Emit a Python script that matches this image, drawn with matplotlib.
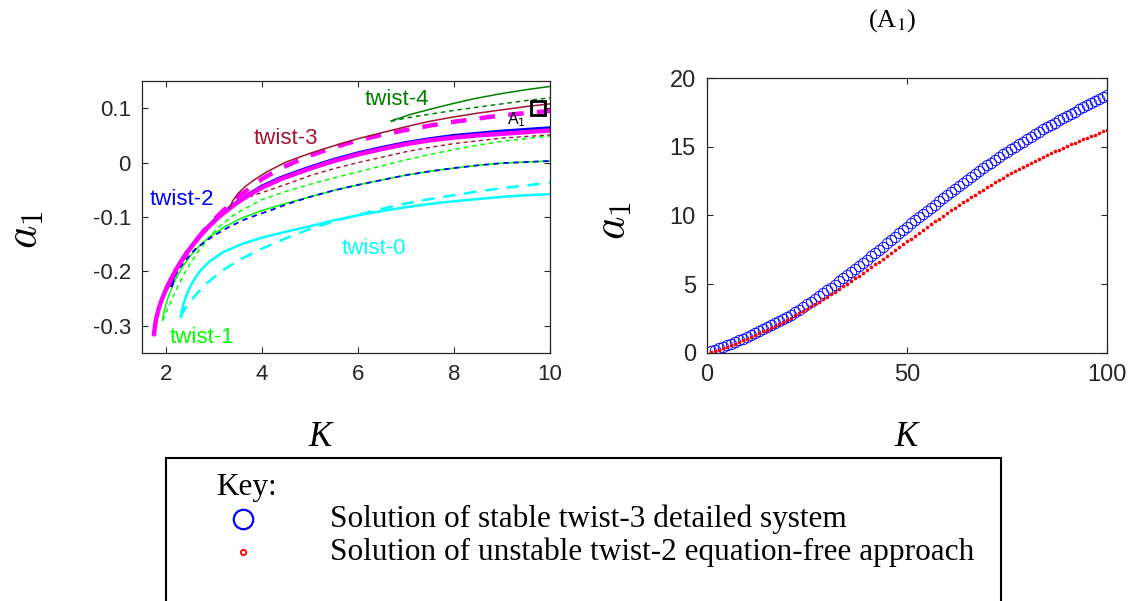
import numpy as np
import matplotlib
matplotlib.use("Agg")
import matplotlib.pyplot as plt
from matplotlib.patches import Rectangle

plt.rcParams['font.family'] = ['Liberation Sans', 'DejaVu Sans']
plt.rcParams['mathtext.fontset'] = 'cm'

# ---- left panel: branches a1(K) for each twist state ----
# twist-0 (cyan)
K_t0 = [2.31, 2.33, 2.37, 2.45, 2.55, 2.7, 2.9, 3.2, 3.6, 4.0, 4.5, 5.0, 5.5, 6.0, 6.5, 7.0, 7.5, 8.0,
        8.5, 9.0, 9.5, 10.0]
a_t0 = [-0.284, -0.272, -0.258, -0.238, -0.220, -0.200, -0.182, -0.164, -0.149, -0.138, -0.127, -0.117,
        -0.106, -0.097, -0.089, -0.082, -0.076, -0.071, -0.067, -0.063, -0.060, -0.058]
K_t0d = [2.31, 2.34, 2.4, 2.5, 2.65, 2.85, 3.1, 3.5, 4.0, 4.5, 5.0, 5.5, 6.0, 6.5, 7.0, 7.5, 8.0, 8.5,
         9.0, 9.5, 10.0]
a_t0d = [-0.284, -0.277, -0.268, -0.256, -0.240, -0.222, -0.203, -0.180, -0.158, -0.139, -0.122, -0.108,
         -0.096, -0.085, -0.075, -0.067, -0.060, -0.053, -0.047, -0.042, -0.037]

# twist-1 (green)
K_t1 = [1.93, 1.95, 1.99, 2.05, 2.13, 2.22, 2.35, 2.5, 2.7, 2.9, 3.2, 3.55, 4.0, 4.5, 5.0, 5.5, 6.0,
        6.5, 7.0, 7.5, 8.0, 8.5, 9.0, 9.5, 10.0]
a_t1 = [-0.290, -0.278, -0.263, -0.246, -0.228, -0.211, -0.191, -0.172, -0.153, -0.137, -0.119, -0.103,
        -0.088, -0.075, -0.063, -0.051, -0.041, -0.032, -0.023, -0.016, -0.010, -0.005, -0.001, 0.001, 0.003]
K_t1d = [1.93, 1.97, 2.02, 2.1, 2.2, 2.35, 2.5, 2.7, 2.9, 3.1, 3.4, 3.7, 4.0, 4.5, 5.0, 5.5, 6.0, 6.5,
         7.0, 7.5, 8.0, 8.5, 9.0, 9.5, 10.0]
a_t1d = [-0.290, -0.283, -0.272, -0.256, -0.236, -0.209, -0.186, -0.160, -0.137, -0.118, -0.097, -0.082,
         -0.068, -0.053, -0.040, -0.028, -0.017, -0.006, 0.005, 0.015, 0.024, 0.032, 0.039, 0.044, 0.049]

# twist-2 (blue)
K_t2 = [2.12, 2.15, 2.2, 2.3, 2.45, 2.6, 2.8, 3.0, 3.4, 3.7, 4.0, 4.4, 5.0, 5.5, 6.0, 6.5, 7.0, 7.5,
        8.0, 8.5, 9.0, 9.5, 10.0]
a_t2 = [-0.226, -0.213, -0.200, -0.183, -0.163, -0.145, -0.124, -0.106, -0.077, -0.059, -0.043, -0.027,
        -0.008, 0.006, 0.018, 0.028, 0.037, 0.044, 0.050, 0.054, 0.058, 0.061, 0.064]
K_t2d = [2.12, 2.17, 2.25, 2.4, 2.6, 2.8, 3.0, 3.3, 3.6, 3.9, 4.2, 4.5, 5.0, 5.5, 6.0, 6.5, 7.0, 7.5,
         8.0, 8.5, 9.0, 9.5, 10.0]
a_t2d = [-0.226, -0.212, -0.198, -0.180, -0.160, -0.146, -0.134, -0.119, -0.106, -0.096, -0.087, -0.077,
         -0.063, -0.051, -0.041, -0.032, -0.023, -0.016, -0.010, -0.005, -0.001, 0.001, 0.003]

# twist-3 (dark red)
K_t3 = [3.32, 3.4, 3.5, 3.65, 3.85, 4.1, 4.5, 5.0, 5.5, 6.0, 6.5, 7.0, 7.5, 8.0, 8.5, 9.0, 9.5, 10.0]
a_t3 = [-0.083, -0.069, -0.057, -0.044, -0.031, -0.017, 0.001, 0.017, 0.031, 0.044, 0.055, 0.066,
        0.076, 0.084, 0.091, 0.097, 0.103, 0.108]
K_t3d = [3.32, 3.4, 3.5, 3.65, 3.8, 4.0, 4.5, 5.0, 5.5, 6.0, 6.5, 7.0, 7.5, 8.0, 8.5, 9.0, 9.5, 10.0]
a_t3d = [-0.083, -0.077, -0.072, -0.066, -0.061, -0.055, -0.040, -0.024, -0.011, 0.000, 0.010, 0.020,
         0.028, 0.035, 0.040, 0.045, 0.048, 0.051]

# twist-4 (dark green)
K_t4 = [6.69, 6.75, 6.85, 7.07, 7.5, 8.0, 8.45, 9.0, 9.5, 10.0]
a_t4 = [0.076, 0.079, 0.081, 0.088, 0.098, 0.109, 0.118, 0.127, 0.134, 0.140]
K_t4d = [6.69, 7.0, 7.5, 8.0, 8.5, 9.0, 9.5, 10.0]
a_t4d = [0.076, 0.082, 0.089, 0.096, 0.102, 0.108, 0.114, 0.119]

# equation-free branch (magenta)
K_ef = [1.75, 1.77, 1.8, 1.85, 1.92, 2.0, 2.1, 2.2, 2.35, 2.5, 2.7, 2.9, 3.1, 3.4, 3.7, 4.0, 4.4, 5.0,
        5.5, 6.0, 6.5, 7.0, 7.5, 8.0, 8.5, 9.0, 9.5, 10.0]
a_ef = [-0.316, -0.300, -0.285, -0.268, -0.250, -0.233, -0.215, -0.198, -0.177, -0.158, -0.136, -0.117,
        -0.100, -0.079, -0.061, -0.046, -0.030, -0.011, 0.003, 0.015, 0.025, 0.034, 0.041, 0.046, 0.050,
        0.053, 0.056, 0.059]
K_efd = [2.0, 2.2, 2.5, 2.8, 3.1, 3.5, 4.0, 4.45, 5.0, 5.5, 6.0, 6.5, 7.0, 7.5, 8.0, 8.5, 9.0, 9.5, 10.0]
a_efd = [-0.233, -0.198, -0.156, -0.124, -0.096, -0.063, -0.030, -0.008, 0.013, 0.028, 0.041, 0.051,
         0.060, 0.068, 0.075, 0.081, 0.087, 0.091, 0.095]

K_A1, a_A1 = 9.76, 0.101

# ---- right panel: a1 against K at point A1 ----
K_r = np.arange(1, 101)
a_detailed = [0.10, 0.21, 0.32, 0.43, 0.55, 0.67, 0.79, 0.91, 1.03, 1.16,
              1.29, 1.42, 1.56, 1.70, 1.84, 1.99, 2.14, 2.29, 2.45, 2.61,
              2.78, 2.96, 3.14, 3.33, 3.52, 3.72, 3.92, 4.12, 4.33, 4.54,
              4.75, 4.97, 5.19, 5.41, 5.63, 5.86, 6.09, 6.32, 6.55, 6.78,
              7.02, 7.26, 7.50, 7.74, 7.98, 8.22, 8.46, 8.70, 8.94, 9.18,
              9.42, 9.65, 9.88, 10.11, 10.34, 10.57, 10.80, 11.03, 11.26, 11.49,
              11.71, 11.93, 12.15, 12.37, 12.59, 12.81, 13.02, 13.23, 13.44, 13.65,
              13.85, 14.05, 14.25, 14.45, 14.64, 14.83, 15.02, 15.21, 15.39, 15.57,
              15.75, 15.93, 16.10, 16.27, 16.44, 16.61, 16.77, 16.93, 17.09, 17.25,
              17.41, 17.57, 17.73, 17.88, 18.03, 18.18, 18.33, 18.48, 18.63, 18.78]
a_eqfree = [0.03, 0.13, 0.23, 0.34, 0.45, 0.56, 0.67, 0.79, 0.91, 1.03,
            1.16, 1.29, 1.42, 1.55, 1.68, 1.82, 1.96, 2.10, 2.25, 2.40,
            2.56, 2.72, 2.88, 3.04, 3.21, 3.38, 3.55, 3.73, 3.91, 4.09,
            4.27, 4.46, 4.65, 4.84, 5.03, 5.22, 5.41, 5.61, 5.81, 6.01,
            6.22, 6.43, 6.64, 6.85, 7.06, 7.27, 7.48, 7.69, 7.90, 8.11,
            8.32, 8.53, 8.74, 8.95, 9.16, 9.37, 9.58, 9.78, 9.98, 10.18,
            10.38, 10.57, 10.76, 10.95, 11.14, 11.33, 11.52, 11.70, 11.88, 12.06,
            12.24, 12.41, 12.58, 12.75, 12.92, 13.08, 13.24, 13.40, 13.55, 13.70,
            13.85, 13.99, 14.13, 14.27, 14.41, 14.54, 14.67, 14.80, 14.93, 15.06,
            15.18, 15.30, 15.42, 15.54, 15.66, 15.78, 15.90, 16.02, 16.14, 16.26]

c_red = '#a2142f'
c_dgreen = '#008000'
c_green = '#00ff00'
ink = '#262626'

fig = plt.figure(figsize=(11.32, 6.01), dpi=100)
ax1 = fig.add_axes([142/1132, 1-353/601, 408/1132, 272/601])
ax2 = fig.add_axes([707/1132, 1-352.7/601, 400/1132, 274.4/601])

for ax in (ax1, ax2):
    ax.tick_params(direction='in', top=True, right=True, length=4, width=0.8, colors=ink, pad=8)
    for s in ax.spines.values():
        s.set_color(ink)
        s.set_linewidth(0.9)

# left panel curves
ax1.plot(K_t0, a_t0, color='cyan', lw=1.8)
ax1.plot(K_t0d, a_t0d, color='cyan', lw=1.8, dashes=(5, 3.5))
ax1.plot(K_t1, a_t1, color=c_green, lw=1.1)
ax1.plot(K_t1d, a_t1d, color=c_green, lw=1.1, dashes=(3, 2.5))
ax1.plot(K_t2d, a_t2d, color='blue', lw=1.3, dashes=(3, 2.5))
ax1.plot(K_t3d, a_t3d, color=c_red, lw=1.0, dashes=(3, 2.5))
ax1.plot(K_t2, a_t2, color='blue', lw=2.2)
ax1.plot(K_ef, a_ef, color='magenta', lw=3.2, solid_capstyle='round')
ax1.plot(K_efd, a_efd, color='magenta', lw=3.2, dashes=(3.5, 3))
ax1.plot(K_t3, a_t3, color=c_red, lw=1.1)
ax1.plot(K_t4, a_t4, color=c_dgreen, lw=1.1)
ax1.plot(K_t4d, a_t4d, color=c_dgreen, lw=1.1, dashes=(3, 2.5))
ax1.plot([K_A1], [a_A1], 's', ms=9.5, mfc='none', mec='black', mew=2)

lab = dict(fontsize=16, ha='center', va='center')
ax1.text(6.82, 0.116, 'twist-4', color=c_dgreen, **lab)
ax1.text(4.5, 0.044, 'twist-3', color=c_red, **lab)
ax1.text(2.33, -0.067, 'twist-2', color='blue', **lab)
ax1.text(6.34, -0.158, 'twist-0', color='cyan', **lab)
ax1.text(2.75, -0.322, 'twist-1', color=c_green, **lab)
ax1.text(9.3, 0.079, r'A$_1$', fontsize=11.5, ha='center', va='center', math_fontfamily='dejavusans')

ax1.set_xlim(1.5, 10)
ax1.set_ylim(-0.35, 0.15)
ax1.set_xticks([2, 4, 6, 8, 10])
ax1.set_yticks([-0.3, -0.2, -0.1, 0, 0.1])
ax1.set_yticklabels(['-0.3', '-0.2', '-0.1', '0', '0.1'])
ax1.tick_params(labelsize=16)

# right panel
ax2.plot(K_r, a_detailed, 'o', ms=7.5, mfc='none', mec='blue', mew=0.65)
ax2.plot(K_r, a_eqfree, 'o', ms=2.6, color='red', mew=0)
ax2.set_xlim(0, 100)
ax2.set_ylim(0, 20)
ax2.set_xticks([0, 50, 100])
ax2.set_yticks([0, 5, 10, 15, 20])
ax2.tick_params(labelsize=17)

# axis labels
W, H = 1132, 601
kfont = dict(fontsize=25, family='Liberation Serif', style='italic', ha='center', va='center')
fig.text(320/W, 1-437/H, 'K', **kfont)
fig.text(906/W, 1-437/H, 'K', **kfont)
fig.text(25/W, 1-230/H, r'$a_1$', fontsize=32, rotation=90, ha='center', va='center')
fig.text(614/W, 1-221/H, r'$a_1$', fontsize=32, rotation=90, ha='center', va='center')
fig.text(892/W, 1-21/H, r'(A$_1$)', fontsize=19, family='Liberation Serif',
         ha='center', va='center', math_fontfamily='stix')

# key box
fig.add_artist(Rectangle((166/W, -0.05), (1001-166)/W, 0.05 + 1-458/H, transform=fig.transFigure,
                         fill=False, lw=1.5, ec='black'))
tfont = dict(fontsize=22.5, family='Liberation Serif', va='center', ha='left')
fig.text(216/W, 1-488/H, 'Key:', **tfont)
fig.text(330/W, 1-519/H, 'Solution of stable twist-3 detailed system', **tfont)
fig.text(330/W, 1-552/H, 'Solution of unstable twist-2 equation-free approach', **tfont)
fig.add_artist(plt.Line2D([243/W], [1-519/H], marker='o', ms=14, mfc='none', mec='blue', mew=1.6,
                          transform=fig.transFigure))
fig.add_artist(plt.Line2D([243/W], [1-552/H], marker='o', ms=3.8, mfc='none', mec='red', mew=1.3,
                          transform=fig.transFigure))

fig.savefig('out.png', dpi=100)
